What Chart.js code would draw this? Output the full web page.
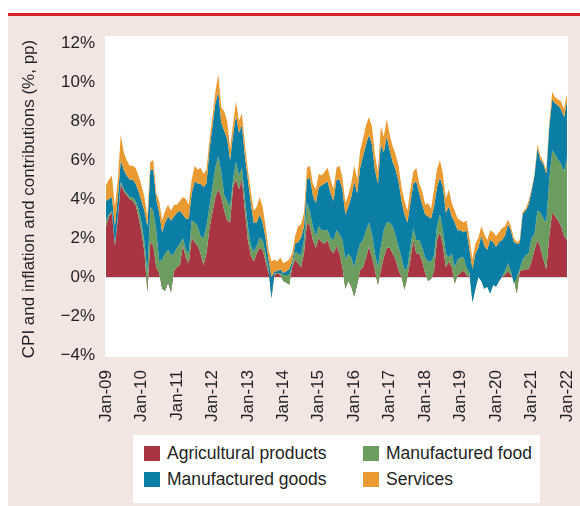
<!DOCTYPE html>
<html>
<head>
<meta charset="utf-8">
<script src="https://cdn.jsdelivr.net/npm/chart.js"></script>
<title>CPI contributions</title>
<style>
  body { margin: 0; background: #fff; }
  #wrap { position: relative; width: 580px; height: 506px; overflow: hidden;
          font-family: "Liberation Sans", Arial, sans-serif; color: #231f20; }
  #topline { position: absolute; left: 8px; top: 13px; width: 572px; height: 3px; background: #d2232a; }
  #panel { position: absolute; left: 8px; top: 16px; width: 572px; height: 490px; background: #f3e5e2; }
  #myChart { position: absolute; left: 0; top: 0; }
  #legend { position: absolute; left: 133px; top: 435px; width: 407px; height: 68px; background: #fff; font-size: 17.5px; }
  .item { position: absolute; display: flex; align-items: center; height: 20px; white-space: nowrap; }
  .sw { width: 16px; height: 15px; margin-right: 7px; }
</style>
</head>
<body>
<div id="wrap">
  <div id="topline"></div>
  <div id="panel"></div>
  <canvas id="myChart" width="580" height="506"></canvas>
  <div id="legend">
    <div class="item" style="left:11px;top:8px"><span class="sw" style="background:#a93444"></span>Agricultural products</div>
    <div class="item" style="left:230px;top:8px"><span class="sw" style="background:#6b9d5f"></span>Manufactured food</div>
    <div class="item" style="left:11px;top:34px"><span class="sw" style="background:#0a7ea4"></span>Manufactured goods</div>
    <div class="item" style="left:230px;top:34px"><span class="sw" style="background:#e99a31"></span>Services</div>
  </div>
</div>

<script>
// months Jan-09 .. Jan-22
const monthNames = ['Jan','Feb','Mar','Apr','May','Jun','Jul','Aug','Sep','Oct','Nov','Dec'];
const years = ['09','10','11','12','13','14','15','16','17','18','19','20','21','22'];

// contributions, pp (one row per year)
const agri = [
  2.6, 3.1, 3.3, 1.6, 3.0, 4.8, 4.4, 4.2, 4.0, 3.9, 3.7, 3.1,
  2.3, 1.3, -0.75, 1.8, 1.6, 0.5, 0.2, -0.6, -0.7, -0.3, -0.8, 0.3,
  0.5, 0.6, 1.6, 1.0, 0.7, 2.0, 1.8, 1.6, 1.2, 0.6, 1.2, 2.5,
  3.3, 4.1, 4.5, 4.1, 3.4, 2.9, 2.8, 4.6, 5.0, 4.5, 5.0, 3.4,
  1.9, 1.1, 0.8, 1.2, 1.5, 1.4, 0.8, 0.2, -0.3, 0.1, 0.2, 0.1,
  -0.2, -0.3, -0.4, 0.5, 0.9, 0.7, 0.5, 1.2, 2.8, 2.6, 1.9, 1.5,
  2.0, 1.8, 1.7, 1.9, 1.4, 1.2, 1.6, 1.2, 0.5, -0.6, -0.2, -0.5,
  -1.0, -0.4, 0.35, 0.5, 1.0, 1.55, 1.0, 0.35, -0.4, 0.35, 1.0, 1.5,
  1.5, 1.2, 0.9, 0.35, 0.0, -0.65, 0.0, 0.9, 1.9, 1.2, 1.2, 0.8,
  0.2, -0.2, -0.1, 0.3, 1.9, 2.3, 1.6, 0.5, 0.8, 0.5, -0.35, 0.1,
  0.2, 0.35, 0.1, 0.0, -0.3, -0.2, 0.0, -0.1, -0.2, -0.2, -0.3, -0.1,
  -0.1, 0.0, 0.0, 0.1, 0.3, 0.1, -0.1, -0.85, 0.3, 0.35, 0.4, 0.4,
  0.8, 1.4, 1.9, 1.5, 0.9, 0.4, 2.1, 3.3, 3.1, 2.9, 2.6, 2.1,
  1.9
];
const food = [
  0.3, 0.1, 0.1, 0.1, 0.1, 0.1, 0.1, 0.1, 0.1, 0.2, 0.2, 0.4,
  0.5, 0.5, 0.95, 1.8, 1.8, 1.9, 0.6, 1.5, 1.9, 1.7, 1.9, 0.9,
  1.0, 1.1, 0.4, 0.4, 0.5, 0.9, 1.0, 1.0, 0.9, 1.4, 1.4, 1.1,
  1.3, 1.5, 1.7, 1.3, 0.8, 1.0, 0.8, 0.4, 0.9, 0.7, 0.6, 0.6,
  0.7, 0.5, 0.5, 0.4, 0.5, 0.5, 0.4, 0.2, -0.8, 0.1, 0.0, 0.1,
  0.3, 0.4, 0.5, 0.1, 0.4, 0.5, 0.6, 0.7, 1.0, 0.8, 0.7, 0.6,
  0.6, 0.6, 0.7, 0.5, 0.6, 0.7, 0.8, 1.0, 1.4, 1.5, 1.4, 1.5,
  1.5, 1.6, 1.35, 1.4, 1.4, 1.25, 1.2, 0.85, 0.9, 1.2, 1.4, 1.3,
  1.3, 1.4, 1.2, 1.2, 1.0, 1.0, 0.5, 0.65, 0.6, 0.7, 0.7, 0.7,
  0.8, 1.0, 0.9, 0.8, 0.7, 0.9, 0.8, 0.7, 0.2, 0.7, 0.85, 0.8,
  0.8, 0.65, 0.4, 0.2, -1.0, -0.4, 0.0, -0.1, -0.4, -0.3, -0.55, -0.3,
  -0.4, -0.2, 0.0, 0.2, 0.4, 0.2, -0.2, 0.85, 0.1, 0.55, 0.7, 0.8,
  1.2, 0.8, 1.5, 1.8, 2.1, 2.4, 2.9, 3.2, 3.2, 3.1, 3.2, 3.3,
  4.2
];
const goods = [
  1.0, 0.8, 0.7, 0.9, 1.0, 1.1, 1.0, 0.9, 0.9, 0.9, 0.9, 0.9,
  1.1, 1.6, 2.4, 1.9, 2.1, 1.6, 2.5, 1.4, 1.6, 1.7, 1.8, 1.9,
  1.8, 1.7, 1.2, 1.6, 1.8, 1.4, 2.1, 2.2, 2.7, 2.6, 2.2, 2.9,
  3.1, 3.3, 3.3, 2.5, 3.3, 3.2, 2.4, 2.3, 2.4, 2.2, 2.2, 2.2,
  2.4, 2.2, 1.5, 1.2, 1.2, 0.9, 0.8, 0.5, 1.1, 0.1, 0.1, 0.2,
  0.1, 0.2, 0.3, 0.2, 0.4, 0.6, 0.9, 0.7, 1.2, 1.7, 1.6, 1.7,
  2.0, 2.3, 2.4, 2.5, 2.3, 2.0, 2.6, 2.8, 2.6, 2.3, 2.4, 3.1,
  4.4, 3.1, 3.9, 4.3, 4.4, 4.5, 4.6, 4.3, 4.3, 5.25, 4.0, 4.4,
  3.7, 3.3, 3.4, 3.35, 2.9, 2.85, 2.3, 2.25, 2.3, 3.0, 2.4, 2.2,
  2.2, 2.3, 2.2, 2.5, 2.0, 1.9, 2.2, 2.1, 2.6, 1.9, 2.3, 1.5,
  1.4, 1.3, 1.9, 1.2, 1.7, 1.8, 1.5, 2.3, 2.2, 1.9, 2.75, 2.2,
  2.05, 2.0, 1.9, 1.8, 2.0, 2.1, 2.1, 1.7, 1.35, 2.35, 2.3, 2.5,
  2.4, 3.0, 3.2, 2.7, 2.8, 2.5, 2.7, 2.6, 2.6, 2.8, 2.8, 2.8,
  2.9
];
const services = [
  0.8, 1.0, 1.1, 1.0, 0.9, 1.3, 0.9, 0.8, 0.7, 0.7, 0.8, 0.8,
  0.8, 0.7, 0.5, 0.4, 0.5, 0.3, 0.6, 0.6, 0.6, 0.6, 0.5, 0.6,
  0.4, 0.5, 0.9, 1.0, 0.7, 0.7, 0.8, 0.7, 0.8, 0.7, 0.7, 0.5,
  0.5, 0.6, 0.9, 0.8, 1.0, 0.9, 0.6, 0.6, 0.7, 0.6, 0.6, 0.6,
  0.5, 0.6, 0.6, 0.8, 0.9, 0.8, 0.6, 0.5, 0.8, 0.6, 0.5, 0.6,
  0.5, 0.5, 0.5, 0.4, 0.4, 0.8, 0.7, 0.7, 0.6, 0.6, 0.6, 0.7,
  0.7, 0.5, 0.6, 0.7, 0.7, 0.6, 0.6, 0.7, 0.6, 0.6, 0.6, 0.7,
  0.8, 0.7, 0.9, 0.9, 1.0, 0.9, 0.9, 0.8, 0.6, 0.9, 0.8, 0.9,
  0.8, 0.8, 0.8, 0.8, 0.7, 0.7, 0.6, 0.7, 0.6, 0.7, 0.5, 0.7,
  0.5, 0.7, 0.5, 0.9, 0.9, 0.9, 0.7, 0.7, 0.9, 0.7, 0.6, 0.6,
  0.5, 0.5, 0.5, 0.6, 0.5, 0.5, 0.5, 0.5, 0.6, 0.5, 0.5, 0.5,
  0.55, 0.5, 0.6, 0.5, 0.25, 0.2, 0.2, 0.1, 0.15, 0.1, 0.1, 0.2,
  0.1, 0.1, 0.2, 0.2, 0.1, 0.2, 0.2, 0.4, 0.3, 0.3, 0.4, 0.4,
  0.4
];

// month labels
const labels = [];
years.forEach(y => monthNames.forEach(m => labels.push(m + '-' + y)));
labels.length = agri.length;

// stack the series the Excel way: each band runs from the previous total to its own total
const cumAg = agri.slice();
const cumFood = cumAg.map((v, i) => v + food[i]);
const cumGoods = cumFood.map((v, i) => v + goods[i]);
const cumTotal = cumGoods.map((v, i) => v + services[i]);

const txt = '#231f20';
Chart.defaults.font.family = '"Liberation Sans", Arial, sans-serif';
Chart.defaults.color = txt;

// white plot box, a bit taller than the axis range
const plotBg = {
  id: 'plotBg',
  beforeDraw(chart) {
    const a = chart.chartArea;
    const c = chart.ctx;
    c.save();
    c.fillStyle = '#fff';
    c.fillRect(a.left - 1, a.top - 7, a.right - a.left + 2, a.bottom - a.top + 9);
    c.restore();
  }
};

const band = (label, data, color, fill) => ({
  label: label, data: data, backgroundColor: color, fill: fill,
  borderWidth: 0, borderColor: 'transparent', pointRadius: 0, tension: 0
});

const myChart = new Chart(document.getElementById('myChart'), {
  type: 'line',
  data: {
    labels: labels,
    datasets: [
      band('Services', cumTotal, '#e99a31', '+1'),
      band('Manufactured goods', cumGoods, '#0a7ea4', '+1'),
      band('Manufactured food', cumFood, '#6b9d5f', '+1'),
      band('Agricultural products', cumAg, '#a93444', 'origin')
    ]
  },
  options: {
    responsive: false,
    animation: false,
    layout: { padding: { left: 19, top: 43, right: 13, bottom: 0 } },
    plugins: { legend: { display: false }, tooltip: { enabled: false } },
    scales: {
      x: {
        grid: { display: false },
        border: { display: false },
        ticks: {
          autoSkip: false, minRotation: 90, maxRotation: 90, padding: 7,
          font: { size: 17 }, color: txt,
          callback: (v, i) => (i % 12 === 0 ? labels[i] : null)
        },
        // keep the rotated end labels from shrinking the plot
        afterFit: s => { s.height = 151; s.paddingLeft = 0; s.paddingRight = 0; }
      },
      y: {
        min: -4, max: 12,
        border: { display: false },
        grid: {
          drawTicks: false, lineWidth: 1.5,
          color: c => (c.tick && c.tick.value === 0 ? '#b5b5b5' : 'rgba(0,0,0,0)')
        },
        ticks: {
          stepSize: 2, padding: 11, font: { size: 17 }, color: txt,
          callback: v => (v < 0 ? '\u2212' + Math.abs(v) : v) + '%'
        },
        title: {
          display: true, text: 'CPI and inflation and contributions (%, pp)',
          font: { size: 17 }, color: txt, padding: { top: 0, bottom: 0 }
        },
        afterFit: s => { s.width = 87; }
      }
    }
  },
  plugins: [plotBg]
});
</script>
</body>
</html>
